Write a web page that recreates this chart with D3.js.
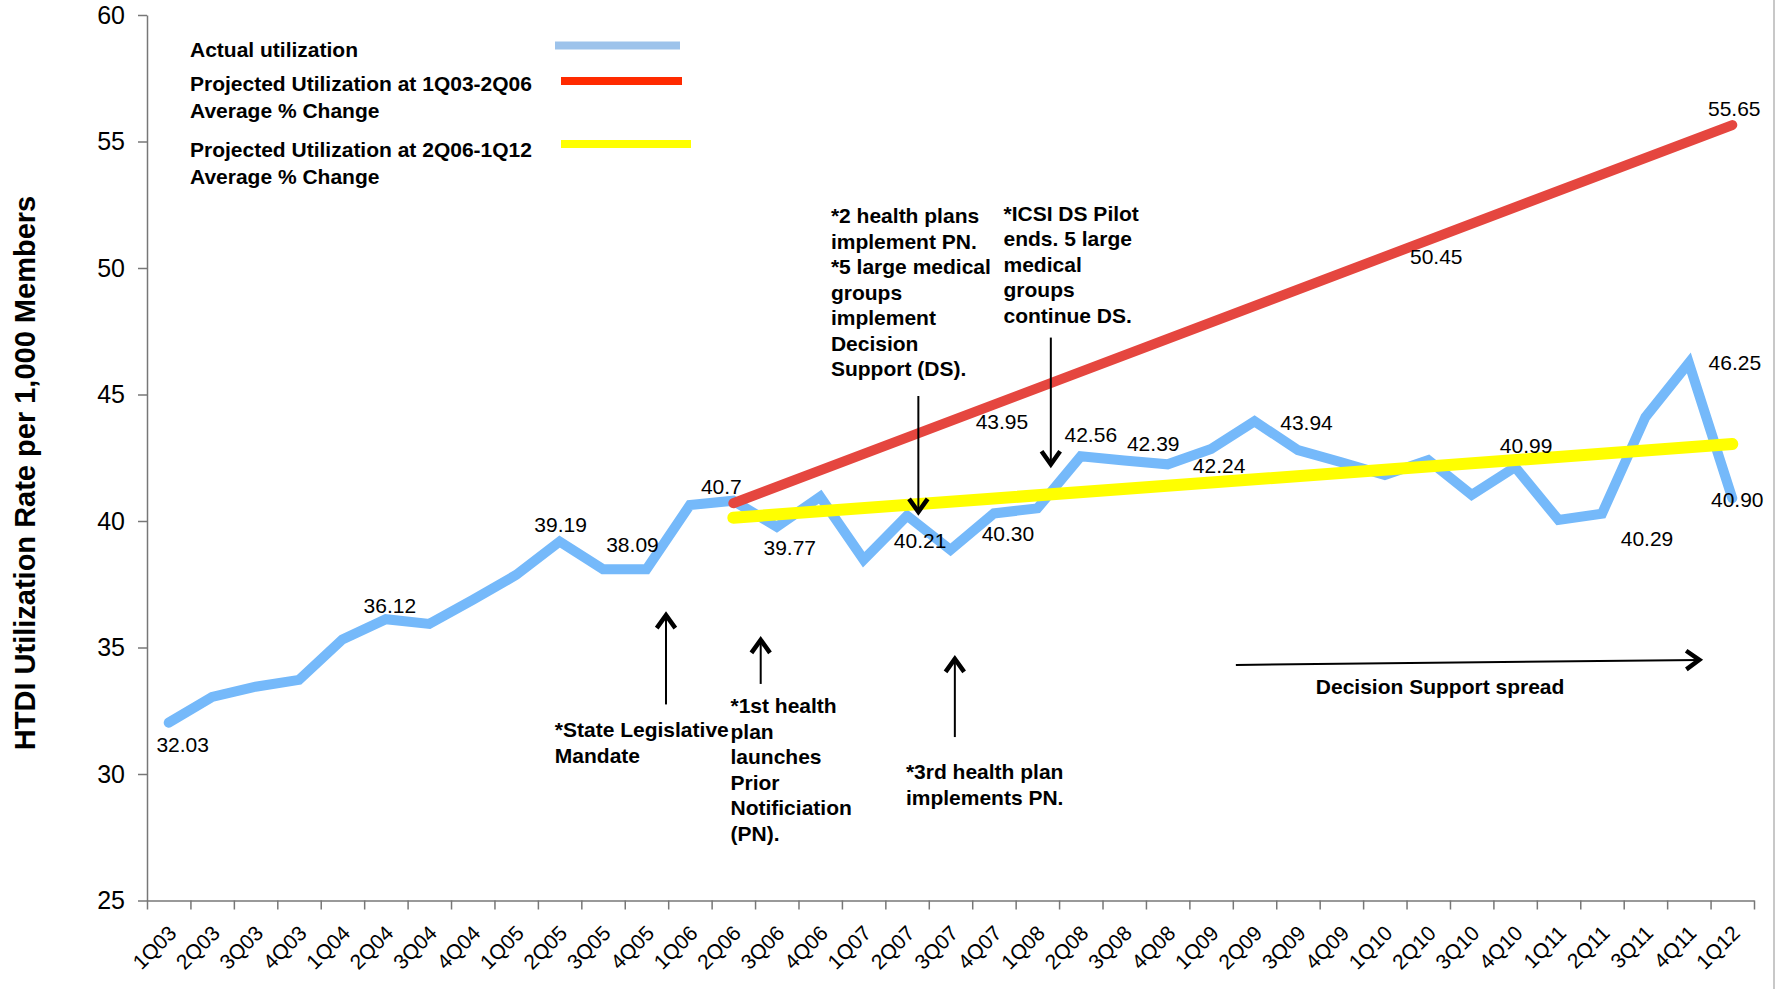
<!DOCTYPE html>
<html>
<head>
<meta charset="utf-8">
<script src="https://cdn.jsdelivr.net/npm/d3@7"></script>
<style>
body { margin: 0; background: #fff; }
text { font-family: "Liberation Sans", Arial, Helvetica, sans-serif; }
</style>
</head>
<body>
<div id="container"></div>
<script>
// ---- data ----
var quarters = ["1Q03","2Q03","3Q03","4Q03","1Q04","2Q04","3Q04","4Q04","1Q05","2Q05","3Q05","4Q05",
  "1Q06","2Q06","3Q06","4Q06","1Q07","2Q07","3Q07","4Q07","1Q08","2Q08","3Q08","4Q08",
  "1Q09","2Q09","3Q09","4Q09","1Q10","2Q10","3Q10","4Q10","1Q11","2Q11","3Q11","4Q11","1Q12"];
var actual = [32.03,33.05,33.45,33.72, 35.32,36.12,35.93,36.88, 37.87,39.19,38.09,38.09,
  40.63,40.80,39.77,40.96, 38.47,40.21,38.86,40.30, 40.50,42.56,42.39,42.24,
  42.85,43.94,42.80,42.32, 41.82,42.41,41.03,42.13, 40.04,40.29,44.11,46.25, 40.90];
var projQuarters = ["2Q06","1Q12"];
var projected1 = [40.7, 55.65];   // 1Q03-2Q06 average % change
var projected2 = [40.13, 43.04];  // 2Q06-1Q12 average % change
var yTicks = [25,30,35,40,45,50,55,60];

var legendNames = [["Actual utilization"],
  ["Projected Utilization at 1Q03-2Q06","Average % Change"],
  ["Projected Utilization at 2Q06-1Q12","Average % Change"]];

var pointLabels = ["32.03","36.12","39.19","38.09","40.7","39.77","40.21","43.95","40.30","42.56",
  "42.39","42.24","43.94","50.45","40.99","40.29","55.65","46.25","40.90"];
var pointLabelQuarter = ["1Q03","2Q04","2Q05","4Q05","2Q06","3Q06","2Q07","4Q07","4Q07","2Q08",
  "3Q08","1Q09","2Q09","2Q10","4Q10","2Q11","1Q12","4Q11","1Q12"];

var notes = [
  ["*2 health plans","implement PN.","*5 large medical","groups","implement","Decision","Support (DS)."],
  ["*ICSI DS Pilot","ends. 5 large","medical","groups","continue DS."],
  ["*State Legislative","Mandate"],
  ["*1st health","plan","launches","Prior","Notificiation","(PN)."],
  ["*3rd health plan","implements PN."],
  ["Decision Support spread"]
];

// ---- layout ----
var W = 1776, H = 989;
var plotLeft = 147, plotRight = 1754, plotTop = 15, plotBottom = 900.5;

var svg = d3.select("#container").append("svg")
  .attr("width", W)
  .attr("height", H);

var x = d3.scaleBand().domain(quarters).range([plotLeft, plotRight]);
var xi = d3.scaleLinear().domain([0, quarters.length]).range([plotLeft, plotRight]);
var y = d3.scaleLinear().domain([25, 60]).range([plotBottom, plotTop]);
var cx = function(q) { return x(q) + x.bandwidth() / 2; };

// frame line on the right
svg.append("line").attr("x1", 1774).attr("x2", 1774).attr("y1", 0).attr("y2", H)
  .attr("stroke", "#c8c8c8").attr("stroke-width", 2);

// y axis
var yAxis = svg.append("g").attr("transform", "translate(" + plotLeft + ",0)")
  .call(d3.axisLeft(y).tickValues(yTicks).tickSize(9).tickSizeOuter(0).tickPadding(13));
yAxis.select(".domain").attr("stroke", "#777").attr("stroke-width", 1.5);
yAxis.selectAll(".tick line").attr("stroke", "#777").attr("stroke-width", 1.5);
yAxis.selectAll("text").attr("font-size", 25).attr("fill", "#000")
  .attr("font-family", "Liberation Sans, Arial, sans-serif");

// x axis: tick marks on category edges
var xTicks = svg.append("g").attr("transform", "translate(0," + plotBottom + ")")
  .call(d3.axisBottom(xi).tickValues(d3.range(0, quarters.length + 1)).tickFormat("").tickSize(9).tickSizeOuter(0));
xTicks.select(".domain").attr("stroke", "#777").attr("stroke-width", 1.5);
xTicks.selectAll(".tick line").attr("stroke", "#777").attr("stroke-width", 1.5);

// x axis: rotated labels
var xLab = svg.append("g").attr("transform", "translate(0," + plotBottom + ")")
  .call(d3.axisBottom(x).tickSize(0));
xLab.select(".domain").remove();
xLab.selectAll("text")
  .attr("y", 0).attr("dy", null)
  .attr("text-anchor", "end")
  .attr("transform", "translate(9,34) rotate(-45)")
  .attr("font-size", 21).attr("fill", "#000")
  .attr("font-family", "Liberation Sans, Arial, sans-serif");

// y axis title
svg.append("text")
  .attr("transform", "translate(25," + 473 + ") rotate(-90)")
  .attr("text-anchor", "middle")
  .attr("dominant-baseline", "central")
  .attr("font-size", 29).attr("font-weight", "bold")
  .text("HTDI Utilization Rate per 1,000 Members");

// lines
var line = d3.line()
  .x(function(d) { return cx(d[0]); })
  .y(function(d) { return y(d[1]); });

svg.append("path").datum(d3.zip(quarters, actual))
  .attr("d", line).attr("fill", "none")
  .attr("stroke", "#75b9fa").attr("stroke-width", 10)
  .attr("stroke-linejoin", "miter").attr("stroke-linecap", "round");

svg.append("path").datum(d3.zip(projQuarters, projected1))
  .attr("d", line).attr("fill", "none")
  .attr("stroke", "#e5463f").attr("stroke-width", 10)
  .attr("stroke-linecap", "round");

svg.append("path").datum(d3.zip(projQuarters, projected2))
  .attr("d", line).attr("fill", "none")
  .attr("stroke", "#ffff00").attr("stroke-width", 12)
  .attr("stroke-linecap", "round");

// value labels (offsets from anchor point, px)
var labelOffset = [[14,22],[4,-14],[1,-17],[-14,-25],[-12,-17],[13,21],[13,25],[8,0],[14,20],[10,-22],
  [29,-17],[8,1],[52,1],[8,0],[11,-50],[45,25],[2,-17],[46,0],[5,1]];
svg.selectAll(".vlab").data(d3.range(pointLabels.length)).join("text")
  .attr("class", "vlab")
  .attr("x", function(i) { return cx(pointLabelQuarter[i]) + labelOffset[i][0]; })
  .attr("y", function(i) { return y(+pointLabels[i]) + labelOffset[i][1]; })
  .attr("text-anchor", "middle")
  .attr("dominant-baseline", "central")
  .attr("font-size", 21)
  .text(function(i) { return pointLabels[i]; });

// legend
var legendColors = ["#9dc3eb", "#ff2a00", "#ffff00"];
var legendY = [56.5, 90.7, 157];
var legendSw = [[555, 680, 45.5], [561, 682, 81], [561, 691, 144]];
legendNames.forEach(function(lines, k) {
  var t = svg.append("text").attr("x", 190).attr("y", legendY[k])
    .attr("font-size", 21).attr("font-weight", "bold");
  lines.forEach(function(s, j) {
    t.append("tspan").attr("x", 190).attr("dy", j === 0 ? 0 : 27).text(s);
  });
  svg.append("line")
    .attr("x1", legendSw[k][0]).attr("x2", legendSw[k][1])
    .attr("y1", legendSw[k][2]).attr("y2", legendSw[k][2])
    .attr("stroke", legendColors[k]).attr("stroke-width", 8);
});

// annotations: [index position, value] of first baseline
var notePos = [[15.747, 51.759], [19.721, 51.877], [9.390, 31.462], [13.434, 32.411], [17.473, 29.802], [29.772, 33.162]];
var noteAnchor = ["start", "start", "start", "start", "start", "middle"];
notes.forEach(function(lines, k) {
  var t = svg.append("text")
    .attr("x", xi(notePos[k][0])).attr("y", y(notePos[k][1]))
    .attr("text-anchor", noteAnchor[k])
    .attr("font-size", 21).attr("font-weight", "bold");
  lines.forEach(function(s, j) {
    t.append("tspan").attr("x", xi(notePos[k][0])).attr("dy", j === 0 ? 0 : 25.5).text(s);
  });
});

// arrows: [from index, from value, to index, to value]
var arrows = [[17.76, 44.94, 17.76, 40.36], [20.81, 47.25, 20.81, 42.24],
  [11.95, 32.75, 11.95, 36.28], [14.13, 33.56, 14.13, 35.30], [18.60, 31.46, 18.60, 34.55],
  [25.07, 34.31, 35.74, 34.51]];
arrows.forEach(function(a) {
  var x1 = xi(a[0]), y1 = y(a[1]), x2 = xi(a[2]), y2 = y(a[3]);
  svg.append("line").attr("x1", x1).attr("y1", y1).attr("x2", x2).attr("y2", y2)
    .attr("stroke", "#000").attr("stroke-width", 2);
  var ang = Math.atan2(y2 - y1, x2 - x1), len = 16, th = 0.62;
  var p1 = [x2 - len * Math.cos(ang - th), y2 - len * Math.sin(ang - th)];
  var p2 = [x2 - len * Math.cos(ang + th), y2 - len * Math.sin(ang + th)];
  svg.append("path")
    .attr("d", "M" + p1 + "L" + [x2, y2] + "L" + p2)
    .attr("fill", "none").attr("stroke", "#000").attr("stroke-width", 4.5)
    .attr("stroke-linejoin", "miter");
});
</script>
</body>
</html>
